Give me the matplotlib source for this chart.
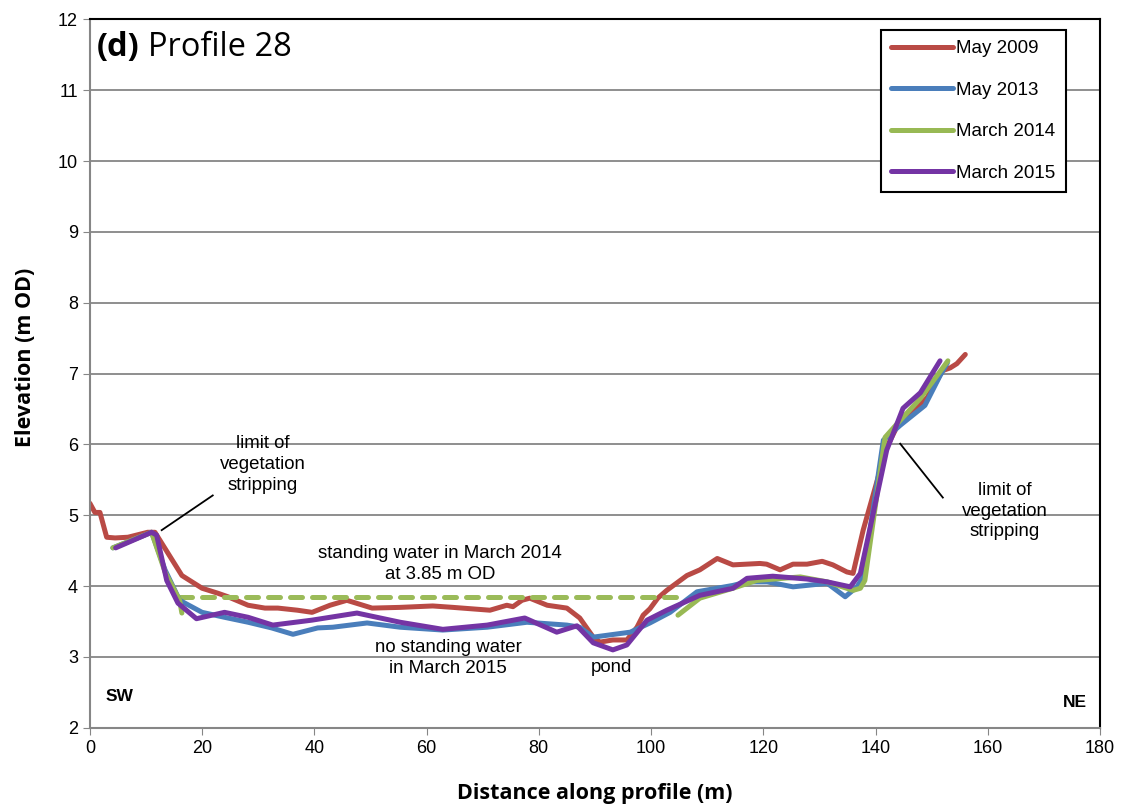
import matplotlib.pyplot as plt
import numpy as np

plt.rcParams['font.family'] = ['Liberation Sans', 'DejaVu Sans']

# May 2009
x_2009 = [0, 0.9, 1.8, 3.0, 4.5, 6.8, 10.3, 11.6, 16.4, 20.0, 22.8, 24.6, 28.2, 31.2, 33.5,
          37.0, 39.6, 42.8, 45.8, 50.3, 55.3, 61.1, 64.7, 71.3, 74.3, 75.4, 77.0, 78.4, 81.5,
          85.0, 87.3, 89.7, 90.9, 93.2, 95.7, 97.5, 98.6, 99.8, 101.2, 102.8, 106.4, 108.7,
          111.8, 114.6, 119.4, 120.6, 123.0, 125.3, 127.8, 130.5, 132.4, 134.9, 136.0, 137.8,
          140.3, 142.0, 144.4, 147.4, 149.2, 151.9, 153.3, 154.5, 156.0]
y_2009 = [5.17, 5.04, 5.04, 4.69, 4.68, 4.69, 4.76, 4.76, 4.15, 3.97, 3.90, 3.85, 3.73, 3.69, 3.69,
          3.66, 3.63, 3.73, 3.80, 3.69, 3.70, 3.72, 3.70, 3.66, 3.73, 3.71, 3.80, 3.83, 3.73,
          3.69, 3.55, 3.28, 3.21, 3.24, 3.24, 3.42, 3.59, 3.68, 3.83, 3.94, 4.15, 4.23,
          4.39, 4.30, 4.32, 4.31, 4.23, 4.31, 4.31, 4.35, 4.30, 4.20, 4.18, 4.79,
          5.49, 5.96, 6.34, 6.52, 6.66, 7.04, 7.08, 7.14, 7.27]

# May 2013
x_2013 = [4.1, 11.0, 13.4, 16.0, 20.0, 24.0, 28.2, 32.4, 36.2, 40.6, 43.3, 49.4, 55.3, 62.9,
          70.8, 77.9, 85.0, 87.3, 89.7, 96.3, 99.8, 103.4, 108.2, 114.6, 117.1, 120.7, 125.3,
          131.4, 134.6, 136.7, 137.8, 141.4, 144.4, 148.8, 151.5, 152.8]
y_2013 = [4.54, 4.76, 4.23, 3.80, 3.63, 3.56, 3.49, 3.41, 3.32, 3.41, 3.42, 3.48, 3.42, 3.38,
          3.42, 3.49, 3.45, 3.42, 3.28, 3.35, 3.48, 3.63, 3.92, 4.01, 4.06, 4.06, 3.99,
          4.04, 3.85, 3.99, 4.13, 6.06, 6.27, 6.55, 6.97, 7.15]

# March 2014 (no survey points under standing water)
x_2014 = [4.1, 11.0, 13.4, 16.0, 16.4, np.nan, 104.8, 108.7, 114.6, 118.8, 126.6, 131.4,
          136.0, 137.3, 138.1, 141.7, 144.4, 148.0, 152.9]
y_2014 = [4.54, 4.76, 4.20, 3.80, 3.62, np.nan, 3.59, 3.83, 3.97, 4.08, 4.13, 4.06,
          3.94, 3.97, 4.08, 6.10, 6.34, 6.65, 7.18]

# March 2015
x_2015 = [4.6, 11.0, 11.9, 13.7, 15.7, 19.0, 24.0, 28.2, 32.6, 39.6, 47.6, 55.3, 62.9, 70.8,
          77.5, 83.2, 86.8, 89.7, 93.2, 95.7, 99.3, 102.8, 108.7, 114.6, 117.1, 121.7, 127.8,
          131.4, 135.5, 137.3, 142.0, 144.9, 148.0, 151.5]
y_2015 = [4.54, 4.76, 4.72, 4.08, 3.76, 3.54, 3.63, 3.56, 3.45, 3.52, 3.62, 3.49, 3.39, 3.45,
          3.55, 3.35, 3.44, 3.20, 3.10, 3.17, 3.52, 3.66, 3.87, 3.97, 4.11, 4.14, 4.10,
          4.06, 3.99, 4.18, 5.92, 6.51, 6.73, 7.18]

water_x = [16.0, 105.0]
water_level = 3.85

fig = plt.figure(figsize=(11.23, 8.06), dpi=100)
ax = fig.add_axes([0.080, 0.097, 0.8995, 0.879])

for yv in range(3, 12):
    ax.axhline(yv, color='#868686', lw=1.3, zorder=0)

lw = 3.6
style = dict(lw=lw, solid_capstyle='round', solid_joinstyle='round')
ax.plot(x_2009, y_2009, color='#B94A45', label='May 2009', **style)
ax.plot(water_x, [water_level, water_level], color='#9BBB59', lw=lw, ls=(0, (2.4, 2.0)),
        dash_capstyle='round')
ax.plot(x_2013, y_2013, color='#4A7EBB', label='May 2013', **style)
ax.plot(x_2014, y_2014, color='#98B954', label='March 2014', **style)
ax.plot(x_2015, y_2015, color='#7434A4', label='March 2015', **style)

ax.set_xlim(0, 180)
ax.set_ylim(2, 12)
ax.set_xticks(np.arange(0, 181, 20))
ax.set_yticks(np.arange(2, 13, 1))
ax.tick_params(direction='out', length=5, color='#868686', labelsize=13)

for side in ['top', 'right']:
    ax.spines[side].set_color('black')
    ax.spines[side].set_linewidth(1.5)
for side in ['left', 'bottom']:
    ax.spines[side].set_color('#868686')
    ax.spines[side].set_linewidth(1.5)

ax.set_xlabel('Distance along profile (m)', fontsize=15.5, fontweight='bold',
              family=['Open Sans', 'DejaVu Sans'], labelpad=19)
ax.set_ylabel('Elevation (m OD)', fontsize=15.5, fontweight='bold',
              family=['Open Sans', 'DejaVu Sans'], labelpad=16, y=0.523)

t1 = ax.text(1.3, 11.6, '(d)', fontsize=23.5, fontweight='bold',
             family=['Open Sans', 'DejaVu Sans'], va='center', ha='left')
ax.annotate('Profile 28', xy=(1, 0.5), xycoords=t1, xytext=(6, 0), textcoords='offset points',
            fontsize=23.5, family=['Open Sans', 'DejaVu Sans'], va='center', ha='left')

tkw = dict(fontsize=13.4, ha='center', va='center', linespacing=1.3)
ax.text(30.8, 5.72, 'limit of\nvegetation\nstripping', **tkw)
ax.plot([21.9, 12.8], [5.28, 4.79], color='black', lw=1.3)
ax.text(163.0, 5.06, 'limit of\nvegetation\nstripping', **tkw)
ax.plot([144.4, 152.0], [6.01, 5.25], color='black', lw=1.3)
ax.text(62.4, 4.31, 'standing water in March 2014\nat 3.85 m OD', **tkw)
ax.text(63.8, 2.98, 'no standing water\nin March 2015', **tkw)
ax.text(93.0, 2.85, 'pond', **tkw)
ax.text(5.3, 2.44, 'SW', fontsize=12.5, fontweight='bold', ha='center', va='center')
ax.text(175.6, 2.36, 'NE', fontsize=12.5, fontweight='bold', ha='center', va='center')

leg = ax.legend(loc='upper right', bbox_to_anchor=(0.966, 0.985), fontsize=13.5,
                fancybox=False, framealpha=1, edgecolor='black', handlelength=3.3,
                handletextpad=0.15, labelspacing=1.3, borderpad=0.55, borderaxespad=0)
leg.get_frame().set_linewidth(1.5)

fig.savefig('out.png', dpi=100)
